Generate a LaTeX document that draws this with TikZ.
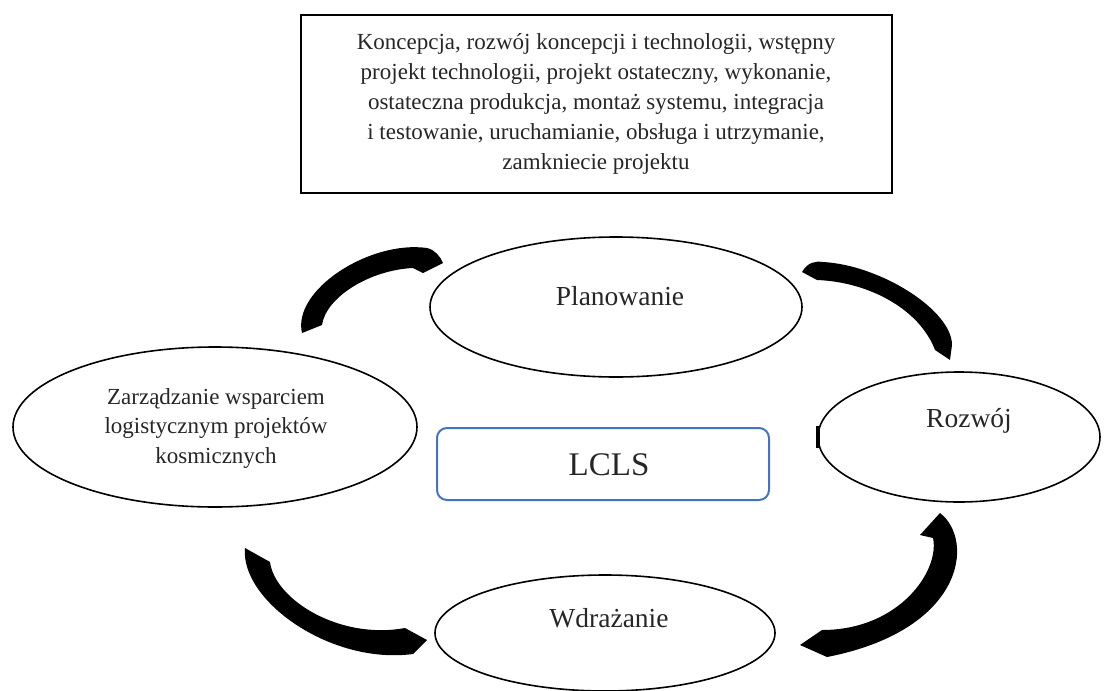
\documentclass[tikz,border=0pt]{standalone}
\usepackage{fontspec}
\setmainfont{Liberation Serif}
\usetikzlibrary{shapes.geometric}
\definecolor{lclsblue}{HTML}{4472C4}
\definecolor{txt}{HTML}{262626}
\begin{document}
\begin{tikzpicture}[x=1pt,y=-1pt,
  oval/.style={ellipse, draw=black, line width=1.6pt, inner sep=0pt},
  lbl/.style={font=\fontsize{27.5}{30}\selectfont, text=txt, inner sep=0pt},
  band/.style={fill=black, draw=none}]
\useasboundingbox (0,0) rectangle (1104,691);
% top box
\node[draw=black, line width=2.5pt, minimum width=591pt, minimum height=178pt, inner sep=0pt] (topbox) at (596.5,104) {};
\node[align=center, font=\fontsize{23}{30}\selectfont, text=txt, inner sep=0pt] (toptext) at (596,104)
  {Koncepcja, rozwój koncepcji i technologii, wstępny\\
   projekt technologii, projekt ostateczny, wykonanie,\\
   ostateczna produkcja, montaż systemu, integracja\\
   i testowanie, uruchamianie, obsługa i utrzymanie,\\
   zamkniecie projektu};
% ellipses
\node[oval, minimum width=372pt, minimum height=140pt] (plan) at (616,307) {};
\node[lbl] (planT) at (620,296) {Planowanie};
\node[oval, minimum width=404pt, minimum height=160pt] (zarz) at (215,427) {};
\node[align=center, font=\fontsize{23}{29.5}\selectfont, text=txt, inner sep=0pt] (zarzT) at (216,428)
  {Zarządzanie wsparciem\\logistycznym projektów\\kosmicznych};
\node[oval, minimum width=282pt, minimum height=130pt] (rozw) at (959,437) {};
\node[lbl] (rozwT) at (969,421) {Rozwój};
\draw[line width=3.5pt] (rozw.west) ++(1,-11) -- ++(0,22);
\node[oval, minimum width=340pt, minimum height=116pt] (wdr) at (605,633) {};
\node[lbl] (wdrT) at (609,618) {Wdrażanie};
% LCLS
\node[draw=lclsblue, line width=2pt, rounded corners=10pt, minimum width=332pt, minimum height=72pt,
  inner sep=0pt] (lcls) at (603,464) {};
\node[font=\fontsize{33}{36}\selectfont, text=txt, inner sep=0pt] (lclsT) at (609,465) {LCLS};
% curved arrows
\fill[band] (302,333) .. controls (292,290) and (370,240) .. (427,248)
  .. controls (435,250) and (440,256) .. (443,263) -- (423,273) -- (413,268)
  .. controls (370,270) and (326,297) .. (322,325) -- cycle;
\fill[band] (802,272) .. controls (808,262) and (815,261) .. (823,262)
  .. controls (880,265) and (952,310) .. (952,345) -- (950,360) -- (935,350)
  .. controls (920,310) and (870,282) .. (817,280) -- cycle;
\fill[band] (245,548) .. controls (240,600) and (330,665) .. (413,654)
  -- (427,640) -- (405,628) .. controls (340,640) and (275,600) .. (270,562) -- cycle;
\fill[band] (940,513) .. controls (975,540) and (965,630) .. (827,657)
  -- (800,645) -- (822,630) .. controls (900,630) and (940,570) .. (933,538) -- (920,535) -- cycle;
\end{tikzpicture}
\end{document}
